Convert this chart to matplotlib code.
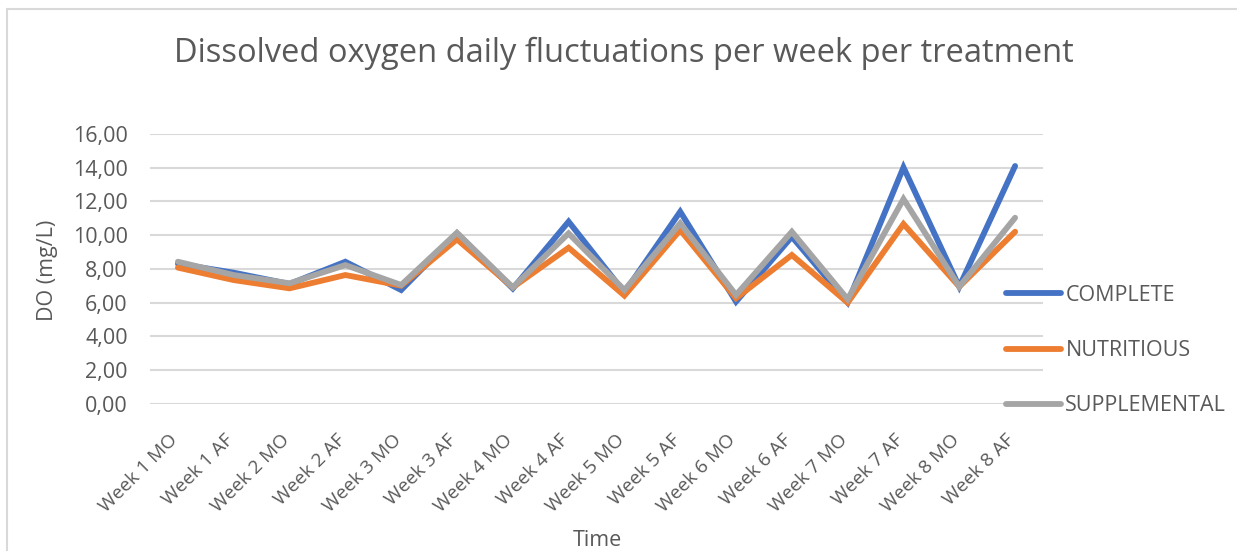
import matplotlib
matplotlib.use("Agg")
import matplotlib.pyplot as plt
from matplotlib.patches import Rectangle
import matplotlib.transforms as mtransforms

categories = ["Week 1 MO", "Week 1 AF", "Week 2 MO", "Week 2 AF", "Week 3 MO", "Week 3 AF",
              "Week 4 MO", "Week 4 AF", "Week 5 MO", "Week 5 AF", "Week 6 MO", "Week 6 AF",
              "Week 7 MO", "Week 7 AF", "Week 8 MO", "Week 8 AF"]
complete = [8.30, 7.77, 7.10, 8.42, 6.74, 10.10, 6.83, 10.80, 6.60, 11.39, 6.05, 9.90,
            6.00, 14.02, 6.94, 14.10]
nutritious = [8.07, 7.33, 6.84, 7.63, 7.00, 9.75, 6.90, 9.25, 6.41, 10.30, 6.25, 8.82,
              5.99, 10.66, 6.94, 10.20]
supplemental = [8.42, 7.63, 7.14, 8.22, 7.04, 10.14, 6.90, 10.10, 6.74, 10.70, 6.45, 10.20,
                6.20, 12.14, 6.94, 11.03]
yticks = [0, 2, 4, 6, 8, 10, 12, 14, 16]
ytick_labels = ["0,00", "2,00", "4,00", "6,00", "8,00", "10,00", "12,00", "14,00", "16,00"]

FONT = "Open Sans"
TXT = "#595959"
FS = 15.5
plt.rcParams['font.family'] = [FONT, 'DejaVu Sans']

fig = plt.figure(figsize=(12.37, 5.51), dpi=100)
W, H = 1237, 551
ax = fig.add_axes([150 / W, 1 - 403.6 / H, (1043 - 150) / W, (403.6 - 134) / H])

# chart border
fig.patches.append(Rectangle((7 / W, -0.1), 1.2, 1 - 9 / H + 0.1, transform=fig.transFigure,
                             fill=False, edgecolor="#d9d9d9", linewidth=1.5))

x = list(range(len(categories)))
lw = 4.2
ax.plot(x, complete, color="#4472C4", lw=lw, label="COMPLETE", solid_capstyle="round", solid_joinstyle="miter")
ax.plot(x, nutritious, color="#ED7D31", lw=lw, label="NUTRITIOUS", solid_capstyle="round", solid_joinstyle="miter")
ax.plot(x, supplemental, color="#A5A5A5", lw=lw, label="SUPPLEMENTAL", solid_capstyle="round", solid_joinstyle="miter")

ax.set_xlim(-0.5, len(categories) - 0.5)
ax.set_ylim(0, 16)
ax.set_yticks(yticks)
ax.set_yticklabels(ytick_labels)
ax.set_xticks(x)
ax.set_xticklabels(categories, rotation=45, ha="right", va="center", rotation_mode="anchor")
ax.tick_params(axis="both", length=0, labelcolor=TXT)
ax.tick_params(axis="y", pad=16, labelsize=FS)
ax.tick_params(axis="x", pad=24, labelsize=13.8)
offset = mtransforms.ScaledTranslation(-3 / 100, 0, fig.dpi_scale_trans)
for lab in ax.get_xticklabels():
    lab.set_transform(lab.get_transform() + offset)

ax.grid(axis="y", color="#d9d9d9", linewidth=1.5)
ax.set_axisbelow(True)
for s in ax.spines.values():
    s.set_visible(False)

fig.text(624 / W, 1 - 53 / H, "Dissolved oxygen daily fluctuations per week per treatment",
         ha="center", va="center", fontsize=23.5, color=TXT)
fig.text(48 / W, 1 - 270 / H, "DO (mg/L)", ha="center", va="center", rotation=90,
         fontsize=FS, color=TXT)
fig.text(597 / W, 1 - 540 / H, "Time", ha="center", va="center", fontsize=FS, color=TXT)

leg = fig.legend(loc="upper left", bbox_to_anchor=(1006 / W, 1 - 285 / H), frameon=False,
                 fontsize=FS, labelcolor=TXT, handlelength=2.56, handletextpad=0.2,
                 labelspacing=1.59, borderaxespad=0, borderpad=0)

fig.savefig("out.png", dpi=100, facecolor="white")
